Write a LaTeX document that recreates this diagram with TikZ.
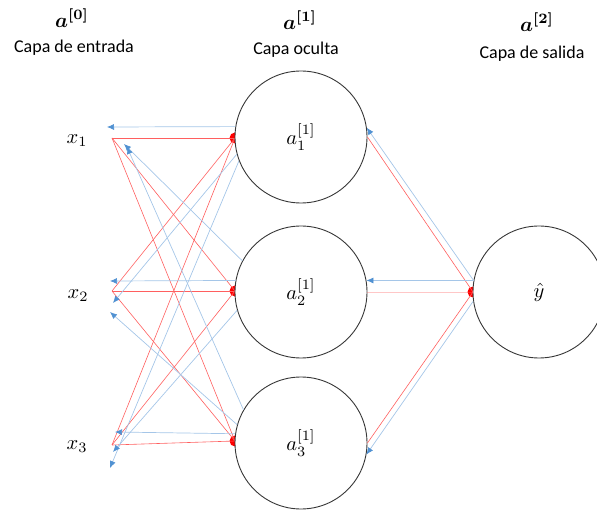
\documentclass[tikz,border=0pt]{standalone}
\usepackage{amsmath,bm,graphicx}
\usepackage{fontspec}
\setmainfont{Carlito}
\usetikzlibrary{arrows.meta}
\definecolor{lineblue}{RGB}{165,198,232}
\definecolor{tipblue}{RGB}{80,145,210}
\definecolor{linered}{RGB}{255,95,95}
\definecolor{ringgray}{RGB}{55,55,55}
\newcommand{\bigmath}[1]{\scalebox{2.05}{$#1$}}
\tikzset{
  neuron/.style={circle,draw=ringgray,line width=0.9pt,fill=white,minimum size=132pt,inner sep=0pt},
  fwd/.style={draw=linered,line width=0.6pt},
  bwd/.style={draw=lineblue,line width=0.7pt,-{Latex[length=7pt,width=6pt,color=tipblue]}},
  reddot/.style={circle,fill=red,inner sep=0pt,minimum size=11pt},
  caption/.style={font=\fontsize{18}{22}\selectfont}
}
\begin{document}
\begin{tikzpicture}[x=1pt,y=-1pt]
\useasboundingbox (0,0) rectangle (597,510);
\clip (0,0) rectangle (597,510);
% titles
\node (t0) at (72,18) {\bigmath{\bm{a^{[0]}}}};
\node[caption] (c0) at (74,48) {Capa de entrada};
\node (t1) at (300,20) {\bigmath{\bm{a^{[1]}}}};
\node[caption] (c1) at (296,50) {Capa oculta};
\node (t2) at (537,22) {\bigmath{\bm{a^{[2]}}}};
\node[caption] (c2) at (532,54) {Capa de salida};
% input labels and points
\node (x1) at (77,141) {\bigmath{x_1}};
\node (x2) at (78,296) {\bigmath{x_2}};
\node (x3) at (77,447) {\bigmath{x_3}};
\coordinate (p1) at (112,138);
\coordinate (p2) at (112,291);
\coordinate (p3) at (112,445);
% arrow end points near inputs
\coordinate (e11) at (107,127);
\coordinate (e21) at (124,144);
\coordinate (e31) at (127,147);
\coordinate (e12) at (113,303);
\coordinate (e22) at (110,281);
\coordinate (e32) at (110,312);
\coordinate (e13) at (110,468);
\coordinate (e23) at (113,452);
\coordinate (e33) at (115,432);
% red dots (under circles)
\node[reddot] (d1) at (235,138) {};
\node[reddot] (d2) at (235,291) {};
\node[reddot] (d3) at (235,441) {};
\node[reddot] (d4) at (473,292) {};
% forward red lines input -> hidden
\foreach \i in {1,2,3}{
  \draw[fwd] (p\i) -- (d1.center);
  \draw[fwd] (p\i) -- (d2.center);
  \draw[fwd] (p\i) -- (d3.center);
}
% neurons
\node[neuron] (h1) at (301,137) {\bigmath{a_1^{[1]}}};
\node[neuron] (h2) at (301,292) {\bigmath{a_2^{[1]}}};
\node[neuron] (h3) at (301,443) {\bigmath{a_3^{[1]}}};
\node[neuron] (o) at (539,292) {\bigmath{\hat{y}}};
% backward blue arrows hidden -> input
\draw[bwd] (h1.171) -- (e11);
\draw[bwd] (h2.152) -- (e21);
\draw[bwd] (h3.150) -- (e31);
\draw[bwd] (h1.195) -- (e12);
\draw[bwd] (h2.170) -- (e22);
\draw[bwd] (h3.164) -- (e32);
\draw[bwd] (h1.201) -- (e13);
\draw[bwd] (h2.196) -- (e23);
\draw[bwd] (h3.172) -- (e33);
% forward red lines hidden -> output
\draw[fwd] (h1.east) -- (d4.center);
\draw[fwd,draw opacity=0.35] (h2.east) -- (d4.center);
\draw[fwd] (h3.east) -- (d4.center);
% backward blue arrows output -> hidden
\draw[bwd] (o.170) -- (h1.8);
\draw[bwd] (o.170) -- (h2.10);
\draw[bwd] (o.188) -- (h3.350);
\end{tikzpicture}
\end{document}
